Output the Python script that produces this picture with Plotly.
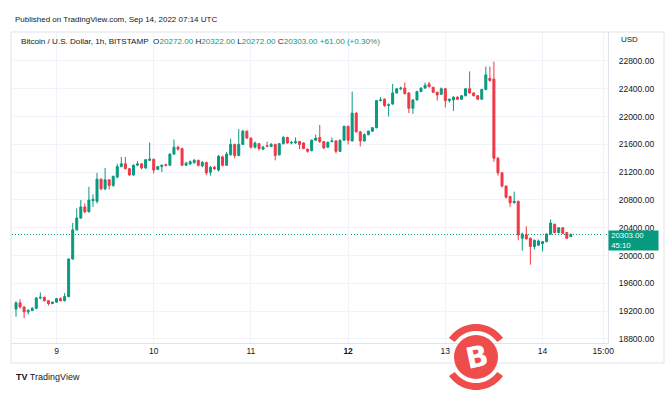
import math
import pandas as pd
import plotly.graph_objects as go

# ---------------- data (BTC/USD 1h, Bitstamp) ----------------
start = "2022-09-08 14:00"
n_bars = 138
times = pd.date_range(start, periods=n_bars, freq="h")

opens = [19230, 19320, 19260, 19190, 19210, 19240, 19390, 19400, 19350, 19310,
         19330, 19380, 19350, 19410, 19950, 20370, 20540, 20700, 20630, 20790,
         20780, 21100, 20960, 21090, 21010, 21130, 21280, 21320, 21250, 21160,
         21300, 21320, 21260, 21370, 21385, 21240, 21280, 21310, 21300, 21460,
         21560, 21540, 21300, 21320, 21340, 21370, 21290, 21340, 21200, 21270,
         21230, 21420, 21300, 21450, 21600, 21440, 21600, 21790, 21690, 21560,
         21610, 21530, 21580, 21570, 21600, 21450, 21610, 21700, 21620, 21620,
         21640, 21620, 21530, 21510, 21660, 21700, 21640, 21560, 21640, 21650,
         21500, 21660, 21860, 21650, 22050, 21780, 21650, 21740, 21790, 21840,
         22230, 22250, 22160, 22180, 22340, 22400, 22410, 22340, 22120, 22240,
         22360, 22410, 22470, 22420, 22350, 22320, 22400, 22230, 22240, 22280,
         22250, 22300, 22400, 22340, 22300, 22250, 22390, 22550, 22540, 21400,
         21190, 21000, 20850, 20760, 20780, 20250, 20300, 20250, 20130, 20150,
         20170, 20200, 20310, 20450, 20330, 20400, 20330, 20272]
highs = [19340, 19370, 19270, 19230, 19260, 19400, 19470, 19410, 19360, 19340,
         19390, 19400, 19460, 19960, 20470, 20680, 20800, 20750, 20990, 20880,
         21190, 21110, 21260, 21100, 21150, 21320, 21420, 21420, 21260, 21310,
         21360, 21330, 21390, 21625, 21395, 21290, 21310, 21320, 21470, 21670,
         21580, 21550, 21350, 21370, 21390, 21380, 21360, 21350, 21290, 21290,
         21450, 21440, 21490, 21680, 21610, 21820, 21810, 21800, 21700, 21640,
         21620, 21580, 21640, 21620, 21610, 21620, 21720, 21710, 21650, 21700,
         21650, 21630, 21540, 21670, 21740, 21880, 21650, 21640, 21700, 21660,
         21670, 21870, 21870, 22360, 22060, 21790, 21760, 21800, 21850, 22240,
         22280, 22260, 22190, 22470, 22410, 22430, 22490, 22350, 22250, 22370,
         22420, 22490, 22500, 22430, 22360, 22420, 22410, 22260, 22290, 22290,
         22310, 22410, 22650, 22350, 22310, 22400, 22720, 22720, 22790, 21420,
         21200, 21010, 20860, 20920, 20790, 20330, 20420, 20260, 20230, 20230,
         20210, 20320, 20520, 20460, 20410, 20410, 20340, 20322]
lows = [19120, 19240, 19100, 19150, 19200, 19230, 19370, 19340, 19280, 19300,
        19320, 19340, 19340, 19400, 19940, 20360, 20530, 20610, 20620, 20700,
        20750, 20940, 20940, 20950, 20990, 21110, 21270, 21240, 21150, 21150,
        21290, 21240, 21250, 21360, 21180, 21230, 21200, 21280, 21290, 21450,
        21510, 21290, 21290, 21300, 21320, 21280, 21270, 21160, 21150, 21230,
        21210, 21280, 21290, 21440, 21400, 21430, 21590, 21680, 21540, 21540,
        21510, 21520, 21560, 21560, 21370, 21440, 21600, 21610, 21600, 21610,
        21530, 21530, 21480, 21500, 21650, 21620, 21530, 21550, 21630, 21470,
        21490, 21650, 21600, 21640, 21770, 21570, 21640, 21730, 21780, 21830,
        22220, 22140, 22000, 22170, 22330, 22380, 22320, 22050, 22040, 22230,
        22350, 22400, 22420, 22340, 22230, 22310, 22130, 22200, 22080, 22240,
        22240, 22290, 22330, 22290, 22240, 22240, 22380, 22500, 21350, 21150,
        20980, 20820, 20700, 20750, 20220, 20070, 20230, 19870, 20090, 20140,
        20060, 20190, 20300, 20320, 20320, 20310, 20240, 20272]
closes = [19320, 19260, 19190, 19210, 19240, 19390, 19400, 19350, 19310, 19330,
          19380, 19350, 19410, 19950, 20370, 20540, 20700, 20630, 20800, 20810,
          21100, 20960, 21090, 21010, 21140, 21280, 21320, 21250, 21160, 21300,
          21320, 21260, 21380, 21390, 21230, 21280, 21300, 21300, 21460, 21560,
          21530, 21300, 21330, 21350, 21370, 21300, 21340, 21190, 21270, 21250,
          21430, 21300, 21460, 21600, 21440, 21600, 21790, 21690, 21560, 21620,
          21540, 21560, 21575, 21600, 21440, 21610, 21700, 21620, 21625, 21640,
          21600, 21540, 21500, 21660, 21690, 21640, 21550, 21630, 21650, 21500,
          21660, 21860, 21660, 22050, 21780, 21650, 21740, 21790, 21840, 22230,
          22240, 22160, 22170, 22340, 22400, 22410, 22330, 22120, 22240, 22360,
          22410, 22450, 22430, 22350, 22310, 22400, 22230, 22250, 22280, 22250,
          22300, 22400, 22340, 22300, 22250, 22390, 22600, 22520, 21400, 21190,
          21000, 20840, 20760, 20780, 20300, 20310, 20240, 20130, 20220, 20210,
          20200, 20310, 20470, 20330, 20400, 20320, 20250, 20303]

last_close = 20303.00
countdown = "45:10"
price_ticks = [18800, 19200, 19600, 20000, 20400, 20800, 21200, 21600, 22000, 22400, 22800]
day_ticks = ["2022-09-09", "2022-09-10", "2022-09-11", "2022-09-12", "2022-09-13",
             "2022-09-14", "2022-09-14 15:00"]
day_labels = ["9", "10", "11", "<b>12</b>", "13", "14", "15:00"]

header = "Published on TradingView.com, Sep 14, 2022 07:14 UTC"
symbol = "Bitcoin / U.S. Dollar, 1h, BITSTAMP"
ohlc_text = [("O", "20272.00"), ("H", "20322.00"), ("L", "20272.00"), ("C", "20303.00")]
change_text = "+61.00 (+0.30%)"

# ---------------- style ----------------
UP = "#089981"
DOWN = "#f23645"
TXT = "#131722"
GRID = "#f0f3fa"
FONT = "Liberation Sans"

L, R, T, B = 12, 608, 32, 343
FW, FH = 670, 398
W, H = R - L, B - T


def px(x):
    return (x - L) / W


def py(y):
    return (B - y) / H


t0 = pd.Timestamp(start)
x_range = [t0 + pd.Timedelta(hours=-0.99), t0 + pd.Timedelta(hours=146.17)]
y_range = [18742, 23217]

fig = go.Figure()
fig.add_trace(go.Candlestick(
    x=times, open=opens, high=highs, low=lows, close=closes,
    increasing=dict(line=dict(color=UP, width=1), fillcolor=UP),
    decreasing=dict(line=dict(color=DOWN, width=1), fillcolor=DOWN),
    whiskerwidth=0, showlegend=False, hoverinfo="skip",
))

shapes = []
# current price dotted line
shapes.append(dict(type="line", xref="paper", yref="y", x0=0, x1=1, y0=last_close, y1=last_close,
                   line=dict(color=UP, width=1, dash="1px,2px"), layer="below"))
# outer frame
shapes.append(dict(type="rect", xref="paper", yref="paper", x0=px(11), x1=px(664), y0=py(363), y1=py(32),
                   line=dict(color="#e0e3eb", width=1), fillcolor="rgba(0,0,0,0)", layer="above"))

# watermark logo (bitcoin)
cx, cy = 476, 357
RED = "#ef4c4c"
shapes.append(dict(type="circle", xref="paper", yref="paper",
                   x0=px(cx - 22), x1=px(cx + 22), y0=py(cy + 22), y1=py(cy - 22),
                   fillcolor=RED, line=dict(width=0), layer="above"))


def arc_path(a0, a1, r_in, r_out, steps=24):
    pts = []
    for k in range(steps + 1):
        a = math.radians(a0 + (a1 - a0) * k / steps)
        pts.append((cx + r_out * math.cos(a), cy - r_out * math.sin(a)))
    for k in range(steps, -1, -1):
        a = math.radians(a0 + (a1 - a0) * k / steps)
        pts.append((cx + r_in * math.cos(a), cy - r_in * math.sin(a)))
    s = "M " + " L ".join(f"{px(x):.5f},{py(y):.5f}" for x, y in pts) + " Z"
    return s


for a0, a1 in [(35, 145), (215, 325)]:
    shapes.append(dict(type="path", xref="paper", yref="paper", path=arc_path(a0, a1, 26, 33),
                       fillcolor=RED, line=dict(width=0), layer="above"))

annotations = []
annotations.append(dict(xref="paper", yref="paper", x=px(cx + 1), y=py(cy), text="<b>B</b>",
                        showarrow=False, textangle=-12,
                        font=dict(family="DejaVu Sans", size=29, color="white"),
                        xanchor="center", yanchor="middle"))
annotations.append(dict(xref="paper", yref="paper", x=px(13), y=py(20), text=header, showarrow=False,
                        xanchor="left", yanchor="middle", font=dict(family=FONT, size=8, color=TXT)))
leg = symbol + "&nbsp;&nbsp;" + " ".join(
    f"<span style='color:{TXT}'>{k}</span><span style='color:{UP}'>{v}</span>" for k, v in ohlc_text)
leg += f" <span style='color:{UP}'>{change_text}</span>"
annotations.append(dict(xref="paper", yref="paper", x=px(19), y=py(41), text=leg, showarrow=False,
                        xanchor="left", yanchor="middle", font=dict(family=FONT, size=8.1, color=TXT)))
annotations.append(dict(xref="paper", yref="paper", x=px(619), y=py(40), text="USD", showarrow=False,
                        xanchor="left", yanchor="middle", font=dict(family=FONT, size=8, color=TXT)))
annotations.append(dict(xref="paper", yref="y", x=px(608), y=last_close, yshift=5,
                        text=f"&nbsp;{last_close:.2f}<br>&nbsp;{countdown}", showarrow=False, align="left",
                        xanchor="left", yanchor="top", bgcolor=UP, borderpad=0, width=49, height=19,
                        font=dict(family=FONT, size=7.8, color="white")))
annotations.append(dict(xref="paper", yref="paper", x=px(14), y=py(377), text="<b>TV</b> TradingView",
                        showarrow=False, xanchor="left", yanchor="middle",
                        font=dict(family=FONT, size=9, color=TXT)))

fig.update_layout(
    width=FW, height=FH,
    margin=dict(l=L, r=FW - R, t=T, b=FH - B, pad=0),
    paper_bgcolor="white", plot_bgcolor="white",
    font=dict(family=FONT, size=8.5, color=TXT),
    showlegend=False,
    shapes=shapes, annotations=annotations,
    xaxis=dict(type="date", range=x_range, rangeslider=dict(visible=False),
               tickvals=day_ticks, ticktext=day_labels, showgrid=True, gridcolor=GRID, gridwidth=1,
               zeroline=False, showline=True, linecolor="#e0e3eb", linewidth=1, ticks="",
               tickfont=dict(family=FONT, size=8.5, color=TXT), fixedrange=True),
    yaxis=dict(side="right", range=y_range, tickvals=price_ticks,
               ticktext=[f"{v:.2f}" for v in price_ticks], showgrid=True, gridcolor=GRID, gridwidth=1,
               zeroline=False, showline=True, linecolor="#e0e3eb", linewidth=1, ticks="outside",
               ticklen=8, tickcolor="rgba(0,0,0,0)",
               tickfont=dict(family=FONT, size=8.5, color=TXT), fixedrange=True),
)

fig.write_html("out.html", post_script="document.body.style.margin='0px';",
               config={"displayModeBar": False})
